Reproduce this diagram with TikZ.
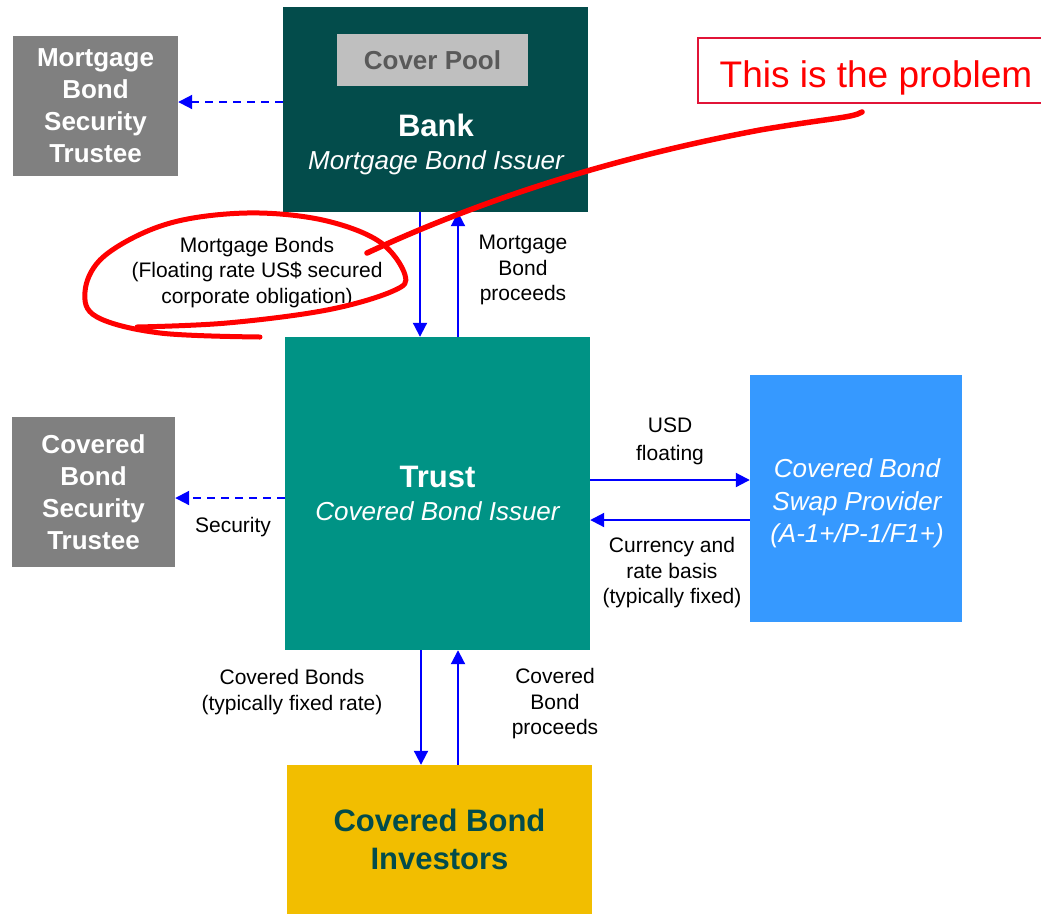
\documentclass[tikz,border=0pt]{standalone}
\usepackage{fontspec}
\setmainfont{Liberation Sans}
\usetikzlibrary{arrows.meta}

\definecolor{bankgreen}{RGB}{3,76,75}
\definecolor{trustgreen}{RGB}{0,147,133}
\definecolor{swapblue}{RGB}{54,153,255}
\definecolor{investgold}{RGB}{242,190,0}
\definecolor{trusteegray}{RGB}{128,128,128}
\definecolor{poolgray}{RGB}{191,191,191}
\definecolor{pooltext}{RGB}{89,89,89}
\definecolor{penred}{RGB}{255,0,0}
\definecolor{boxred}{RGB}{225,20,55}
\definecolor{flowblue}{RGB}{0,0,255}

\begin{document}
\begin{tikzpicture}[x=1pt, y=-1pt,
  party/.style={rectangle, inner sep=0pt, align=center},
  trusteebox/.style={party, fill=trusteegray, text=white, font=\fontsize{26}{32}\selectfont\bfseries},
  flow/.style={flowblue, line width=2pt, -{Triangle[length=14pt,width=14pt]}},
  dflow/.style={flow, dash pattern=on 8pt off 6pt},
  lbl/.style={align=center, inner sep=0pt, font=\fontsize{21}{25.5}\selectfont},
  redpen/.style={penred, line width=5pt, line cap=round, line join=round}]

\clip (0,0) rectangle (1041,914);

\node[trusteebox, minimum width=165pt, minimum height=140pt] (mbtrustee) at (95.5,106) {Mortgage\\Bond\\Security\\Trustee};
\node[trusteebox, minimum width=163pt, minimum height=150pt] (cbtrustee) at (93.5,492) {Covered\\Bond\\Security\\Trustee};

\node[party, fill=bankgreen, minimum width=305pt, minimum height=205pt] (bank) at (435.5,109.5) {};
\node[party, fill=poolgray, text=pooltext, font=\fontsize{26}{32}\selectfont\bfseries, minimum width=191pt, minimum height=52pt] (pool) at (432.5,60) {Cover Pool};
\node[party, text=white, font=\fontsize{26}{33}\selectfont\itshape] (banktxt) at (436,144) {{\fontsize{31}{33}\selectfont\bfseries\upshape Bank}\\Mortgage Bond Issuer};

\node[party, fill=trustgreen, text=white, font=\fontsize{26}{33}\selectfont\itshape, minimum width=305pt, minimum height=313pt] (trust) at (437.5,493.5) {{\fontsize{31}{33}\selectfont\bfseries\upshape Trust}\\Covered Bond Issuer};

\node[party, fill=swapblue, minimum width=212pt, minimum height=247pt] (swap) at (856,498.5) {};
\node[party, text=white, font=\fontsize{26}{32.5}\selectfont\itshape] (swaptxt) at (857,503.5) {Covered Bond\\Swap Provider\\(A-1+/P-1/F1+)};

\node[party, fill=investgold, text=bankgreen, font=\fontsize{31}{38}\selectfont\bfseries, minimum width=305pt, minimum height=149pt] (investors) at (439.5,839.5) {Covered Bond\\Investors};

\node[draw=boxred, line width=1.5pt, minimum width=356pt, minimum height=65pt] (problem) at (876,70.5) {};
\node[anchor=base, inner sep=0pt, text=penred, font=\fontsize{37}{40}\selectfont] (problemtxt) at (876,87) {This is the problem};

\node[lbl] (mbonds) at (257,272.5) {Mortgage Bonds\\(Floating rate US\$ secured\\corporate obligation)};
\node[lbl] (mproceeds) at (523,270) {Mortgage\\Bond\\proceeds};
\node[lbl, font=\fontsize{21}{28}\selectfont] (usd) at (670,441) {USD\\floating};
\node[lbl] (currency) at (672,573) {Currency and\\rate basis\\(typically fixed)};
\node[lbl] (security) at (233,527) {Security};
\node[lbl] (cbonds) at (292,692) {Covered Bonds\\(typically fixed rate)};
\node[lbl] (cproceeds) at (555,704) {Covered\\Bond\\proceeds};

\draw[dflow] ([yshift=7.5pt]bank.west) -- ([yshift=7.5pt]bank.west -| mbtrustee.east); %bank-mbtrustee
\draw[dflow] ([yshift=-4.5pt]trust.west) -- ([yshift=-4.5pt]trust.west -| cbtrustee.east); %trust-cbtrustee
\draw[flow] ([xshift=-15.5pt]bank.south) -- ([xshift=-15.5pt]bank.south |- trust.north); %bank-trust
\draw[flow] ([xshift=22.5pt]bank.south |- trust.north) -- ([xshift=22.5pt]bank.south); %trust-bank
\draw[flow] ([yshift=13.5pt]trust.east) -- ([yshift=13.5pt]trust.east -| swap.west); %trust-swap
\draw[flow] ([yshift=-26.5pt]trust.east -| swap.west) -- ([yshift=-26.5pt]trust.east); %swap-trust
\draw[flow] ([xshift=-16.5pt]trust.south) -- ([xshift=-16.5pt]trust.south |- investors.north); %trust-investors
\draw[flow] ([xshift=20.5pt]trust.south |- investors.north) -- ([xshift=20.5pt]trust.south); %investors-trust

% hand-drawn marks
\draw[redpen] plot[smooth, tension=0.6] coordinates {(137,327) (227,323) (327,310) (393,291) (405,275) (380,242) (327,221) (260,213) (193,218) (143,233) (100,260) (85,292) (97,317) (160,333) (260,337)};
\draw[redpen, line width=5.5pt] (367,253) .. controls (470,205) and (600,160) .. (760,130) .. controls (830,118) and (852,118) .. (862,112);

\end{tikzpicture}
\end{document}
